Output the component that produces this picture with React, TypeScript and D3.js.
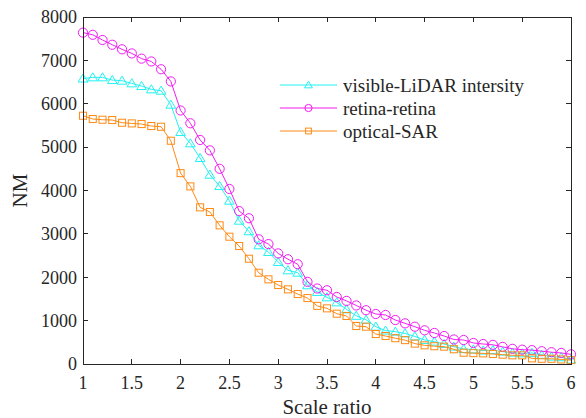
import React from "react";
import * as d3 from "d3";

// Scale ratio sampled from 1.0 to 6.0 in steps of 0.1
const scaleRatios: number[] = [
  1.0, 1.1, 1.2, 1.3, 1.4, 1.5, 1.6, 1.7, 1.8, 1.9,
  2.0, 2.1, 2.2, 2.3, 2.4, 2.5, 2.6, 2.7, 2.8, 2.9,
  3.0, 3.1, 3.2, 3.3, 3.4, 3.5, 3.6, 3.7, 3.8, 3.9,
  4.0, 4.1, 4.2, 4.3, 4.4, 4.5, 4.6, 4.7, 4.8, 4.9,
  5.0, 5.1, 5.2, 5.3, 5.4, 5.5, 5.6, 5.7, 5.8, 5.9, 6.0,
];

const visibleLidar: number[] = [
  6580, 6608, 6608, 6546, 6531, 6470, 6408, 6331, 6300, 5977,
  5348, 5087, 4748, 4364, 4103, 3764, 3303, 3059, 2736, 2582,
  2351, 2159, 2105, 1814, 1660, 1537, 1420, 1260, 1110, 1020,
  860, 770, 745, 705, 635, 555, 515, 460, 400, 345,
  335, 310, 320, 285, 260, 245, 255, 210, 170, 155, 100,
];

const retinaRetina: number[] = [
  7640, 7590, 7470, 7360, 7255, 7160, 7040, 6975, 6795, 6515,
  5845, 5550, 5165, 4925, 4500, 4035, 3525, 3360, 2875, 2765,
  2550, 2415, 2300, 1895, 1740, 1700, 1545, 1455, 1350, 1240,
  1153, 1130, 1014, 937, 860, 776, 715, 645, 565, 553,
  485, 461, 442, 395, 350, 330, 320, 295, 272, 255, 223,
];

const opticalSar: number[] = [
  5724, 5648, 5632, 5624, 5562, 5547, 5532, 5486, 5470, 5147,
  4400, 4095, 3612, 3504, 3197, 2935, 2720, 2427, 2104, 1952,
  1821, 1721, 1613, 1520, 1340, 1283, 1160, 1107, 876, 860,
  691, 645, 595, 550, 470, 430, 410, 400, 340, 260,
  250, 245, 230, 215, 200, 200, 130, 120, 120, 105, 90,
];

const xTicks: number[] = [1, 1.5, 2, 2.5, 3, 3.5, 4, 4.5, 5, 5.5, 6];
const yTicks: number[] = [0, 1000, 2000, 3000, 4000, 5000, 6000, 7000, 8000];

const seriesNames: string[] = ["visible-LiDAR intersity", "retina-retina", "optical-SAR"];
const seriesColors: string[] = ["#22f2f2", "#f21cf2", "#ff8a14"];
const seriesMarkers: string[] = ["triangle", "circle", "square"];

const W = 586;
const H = 418;
const M = { left: 83, right: 571, top: 17, bottom: 364 };
const AXIS = "#262626";
const FONT = "Liberation Serif";

function Marker({ kind, x, y, color, size }: { kind: string; x: number; y: number; color: string; size: number }) {
  if (kind === "circle") {
    return <circle cx={x} cy={y} r={size} fill="none" stroke={color} strokeWidth={1} />;
  }
  if (kind === "square") {
    const s = size * 0.8;
    return <rect x={x - s} y={y - s} width={2 * s} height={2 * s} fill="none" stroke={color} strokeWidth={1} />;
  }
  const h = size * 1.05;
  const w = size * 1.1;
  const pts = `${x},${y - h} ${x + w},${y + h * 0.75} ${x - w},${y + h * 0.75}`;
  return <polygon points={pts} fill="none" stroke={color} strokeWidth={1} />;
}

export default function App() {
  const x = d3.scaleLinear().domain([1, 6]).range([M.left, M.right]);
  const y = d3.scaleLinear().domain([0, 8000]).range([M.bottom, M.top]);

  const series = [visibleLidar, retinaRetina, opticalSar];
  const line = d3
    .line<number>()
    .x((_, i) => x(scaleRatios[i]))
    .y((d) => y(d));

  const tickLen = 5;
  const legendX = 280;
  const legendRows = [85, 108, 131];
  const txt = { fontFamily: FONT, fill: AXIS } as React.CSSProperties;

  return (
    <svg
      width={W}
      height={H}
      viewBox={`0 0 ${W} ${H}`}
      style={{ position: "absolute", left: 0, top: 0, background: "#fff" }}
    >
      <rect x={0} y={0} width={W} height={H} fill="#fff" />

      {/* series lines and markers */}
      {series.map((vals, si) => (
        <g key={seriesNames[si]}>
          <path d={line(vals) || ""} fill="none" stroke={seriesColors[si]} strokeWidth={1} />
          {vals.map((v, i) => (
            <Marker
              key={i}
              kind={seriesMarkers[si]}
              x={x(scaleRatios[i])}
              y={y(v)}
              color={seriesColors[si]}
              size={seriesMarkers[si] === "circle" ? 4.6 : 4.4}
            />
          ))}
        </g>
      ))}

      {/* axes box */}
      <rect
        x={M.left}
        y={M.top}
        width={M.right - M.left}
        height={M.bottom - M.top}
        fill="none"
        stroke={AXIS}
        strokeWidth={1}
        shapeRendering="crispEdges"
      />

      {/* x ticks (inward, bottom and top) */}
      {xTicks.map((t) => (
        <g key={`x${t}`} shapeRendering="crispEdges">
          <line x1={x(t)} x2={x(t)} y1={M.bottom} y2={M.bottom - tickLen} stroke={AXIS} />
          <line x1={x(t)} x2={x(t)} y1={M.top} y2={M.top + tickLen} stroke={AXIS} />
          <text x={x(t)} y={M.bottom + 19} dy="0.35em" textAnchor="middle" fontSize={18} style={txt}>
            {t}
          </text>
        </g>
      ))}

      {/* y ticks (inward, left and right) */}
      {yTicks.map((t) => (
        <g key={`y${t}`} shapeRendering="crispEdges">
          <line x1={M.left} x2={M.left + tickLen} y1={y(t)} y2={y(t)} stroke={AXIS} />
          <line x1={M.right} x2={M.right - tickLen} y1={y(t)} y2={y(t)} stroke={AXIS} />
          <text x={M.left - 6} y={y(t)} dy="0.35em" textAnchor="end" fontSize={18} style={txt}>
            {t}
          </text>
        </g>
      ))}

      {/* axis titles */}
      <text x={(M.left + M.right) / 2} y={407} dy="0.35em" textAnchor="middle" fontSize={21} style={txt}>
        Scale ratio
      </text>
      <text
        transform={`translate(20, ${(M.top + M.bottom) / 2}) rotate(-90)`}
        dy="0.35em"
        textAnchor="middle"
        fontSize={21}
        style={txt}
      >
        NM
      </text>

      {/* legend */}
      {seriesNames.map((name, si) => (
        <g key={`leg${si}`}>
          <line
            x1={legendX}
            x2={legendX + 57}
            y1={legendRows[si]}
            y2={legendRows[si]}
            stroke={seriesColors[si]}
            strokeWidth={1}
          />
          <Marker
            kind={seriesMarkers[si]}
            x={legendX + 28.5}
            y={legendRows[si]}
            color={seriesColors[si]}
            size={3.6}
          />
          <text x={legendX + 63} y={legendRows[si]} dy="0.35em" fontSize={19} style={txt}>
            {name}
          </text>
        </g>
      ))}
    </svg>
  );
}
